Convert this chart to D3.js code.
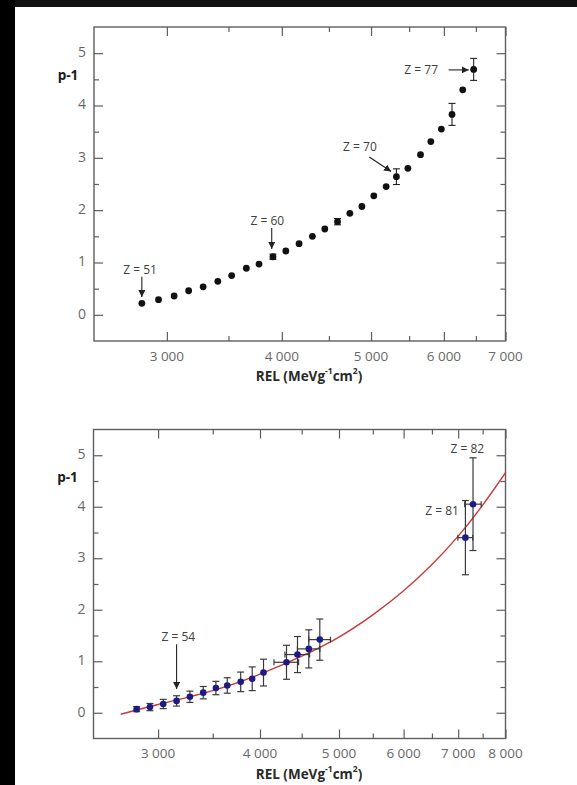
<!DOCTYPE html>
<html>
<head>
<meta charset="utf-8">
<script src="https://cdn.jsdelivr.net/npm/d3@7"></script>
<style>
  html, body { margin: 0; padding: 0; background: #ffffff; }
  svg { display: block; }
  text { font-family: "Open Sans", "Noto Sans", sans-serif; }
</style>
</head>
<body>
<div id="chart"></div>
<script>
// ---------- Top panel data ----------
const topREL = [2818, 2938, 3055, 3168, 3285, 3408, 3528, 3660, 3778, 3912, 4040, 4176, 4318, 4454, 4598, 4742, 4887, 5035, 5193, 5328, 5483, 5659, 5807, 5962, 6123, 6290, 6464];
const topP   = [0.22, 0.29, 0.36, 0.46, 0.535, 0.64, 0.75, 0.89, 0.97, 1.11, 1.22, 1.36, 1.50, 1.64, 1.78, 1.94, 2.07, 2.275, 2.45, 2.64, 2.80, 3.06, 3.31, 3.55, 3.83, 4.30, 4.69];
const topErr = [0, 0, 0, 0, 0, 0, 0, 0, 0, 0.05, 0, 0, 0, 0, 0.06, 0, 0, 0, 0, 0.15, 0, 0, 0, 0, 0.21, 0, 0.21];
const topMajorX = [3000, 4000, 5000, 6000, 7000];
const topMinorX = [3500, 4500, 5500, 6500];
const topAnnoText = ["Z = 51", "Z = 60", "Z = 70", "Z = 77"];
const topAnnoTextREL = [2806, 3857, 4863, 5669];
const topAnnoTextP = [0.85, 1.78, 3.20, 4.67];
const topArrowFromREL = [2818, 3900, 4979, 6071];
const topArrowFromP = [0.73, 1.66, 3.015, 4.68];
const topArrowToREL = [2818, 3900, 5257, 6384];
const topArrowToP = [0.34, 1.26, 2.74, 4.68];

// ---------- Bottom panel data ----------
const botREL  = [2824, 2932, 3044, 3161, 3282, 3408, 3532, 3647, 3788, 3913, 4040, 4311, 4447, 4591, 4736, 7144, 7299];
const botP    = [0.07, 0.11, 0.17, 0.23, 0.31, 0.39, 0.48, 0.53, 0.60, 0.66, 0.78, 0.98, 1.13, 1.24, 1.42, 3.40, 4.05];
const botYErr = [0.05, 0.07, 0.09, 0.10, 0.11, 0.12, 0.13, 0.15, 0.19, 0.23, 0.26, 0.33, 0.35, 0.37, 0.40, 0.72, 0.90];
const botXErr = [0, 0, 0, 0, 0, 0, 0, 0, 0, 0, 0, 150, 155, 145, 145, 150, 170];
const fitREL = [2700, 3000, 3500, 4000, 4500, 5000, 5500, 6000, 6500, 7000, 7500, 8000];
const fitP   = [-0.03, 0.16, 0.43, 0.75, 1.10, 1.47, 1.90, 2.37, 2.88, 3.43, 4.03, 4.66];
const botMajorX = [3000, 4000, 5000, 6000, 7000, 8000];
const botMinorX = [3500, 4500, 5500, 6500, 7500];
const botAnnoText = ["Z = 54", "Z = 81", "Z = 82"];
const botAnnoTextREL = [3176, 6688, 7184];
const botAnnoTextP = [1.45, 3.90, 5.10];
const botArrowFromREL = [3161];
const botArrowFromP = [1.33];
const botArrowToREL = [3161];
const botArrowToP = [0.46];

// ---------- shared ----------
const yMajor = [0, 1, 2, 3, 4, 5];
const yMinor = [0.5, 1.5, 2.5, 3.5, 4.5];
const yLabel = "p-1";
const xLabelMain = "REL (MeVg";
const W = 577, H = 785;

const fmt = d3.formatLocale({decimal: ".", thousands: " ", grouping: [3], currency: ["", ""]}).format(",d");

const svg = d3.select("#chart").append("svg").attr("width", W).attr("height", H);
svg.append("rect").attr("x", 0).attr("y", 0).attr("width", W).attr("height", H).attr("fill", "#ffffff");
svg.append("rect").attr("x", 0).attr("y", 0).attr("width", W).attr("height", 7).attr("fill", "#111111");
svg.append("rect").attr("x", 0).attr("y", 0).attr("width", 15).attr("height", H).attr("fill", "#000000");

const defs = svg.append("defs");
defs.append("marker").attr("id", "ah").attr("viewBox", "0 0 10 10").attr("refX", 10).attr("refY", 5)
  .attr("markerWidth", 7).attr("markerHeight", 7).attr("markerUnits", "userSpaceOnUse").attr("orient", "auto")
  .append("path").attr("d", "M0,0 L10,5 L0,10 Z").attr("fill", "#222");

const FRAME = "#5e5e5e";

function panel(cfg) {
  const x = d3.scaleLog().domain([2500, cfg.xmax]).range([cfg.x0, cfg.x1]);
  const y = d3.scaleLinear().domain([-0.5, 5.5]).range([cfg.y1, cfg.y0]);
  const g = svg.append("g");
  g.append("clipPath").attr("id", cfg.id + "clip").append("rect")
    .attr("x", cfg.x0).attr("y", cfg.y0).attr("width", cfg.x1 - cfg.x0).attr("height", cfg.y1 - cfg.y0);

  function tickAxis(axisFn, scale, vals, size, transform) {
    const a = g.append("g").attr("transform", transform)
      .call(axisFn(scale).tickValues(vals).tickSize(size).tickFormat(""));
    a.select(".domain").remove();
    a.selectAll("line").attr("stroke", FRAME).attr("stroke-width", 1.2);
  }
  tickAxis(d3.axisBottom, x, cfg.major, -9, `translate(0,${cfg.y1})`);
  tickAxis(d3.axisBottom, x, cfg.minor, -5, `translate(0,${cfg.y1})`);
  tickAxis(d3.axisTop, x, cfg.major, -9, `translate(0,${cfg.y0})`);
  tickAxis(d3.axisTop, x, cfg.minor, -5, `translate(0,${cfg.y0})`);
  tickAxis(d3.axisLeft, y, yMajor, -9, `translate(${cfg.x0},0)`);
  tickAxis(d3.axisLeft, y, yMinor, -5, `translate(${cfg.x0},0)`);
  tickAxis(d3.axisRight, y, yMajor, -9, `translate(${cfg.x1},0)`);
  tickAxis(d3.axisRight, y, yMinor, -5, `translate(${cfg.x1},0)`);

  g.append("rect").attr("x", cfg.x0).attr("y", cfg.y0).attr("width", cfg.x1 - cfg.x0).attr("height", cfg.y1 - cfg.y0)
    .attr("fill", "none").attr("stroke", FRAME).attr("stroke-width", 1.4);

  g.selectAll(".xl").data(cfg.major).enter().append("text")
    .attr("x", d => x(d)).attr("y", cfg.y1 + 16).attr("text-anchor", "middle").attr("dominant-baseline", "middle")
    .attr("font-size", 13.5).attr("fill", "#686868").text(d => fmt(d));
  g.selectAll(".yl").data(yMajor).enter().append("text")
    .attr("x", cfg.x0 - 8).attr("y", d => y(d)).attr("text-anchor", "end").attr("dominant-baseline", "middle")
    .attr("font-size", 14).attr("fill", "#686868").text(d => d);

  g.append("text").attr("x", cfg.x0 - 26).attr("y", y(4.55)).attr("text-anchor", "middle").attr("dominant-baseline", "middle")
    .attr("font-size", 13.5).attr("font-weight", "bold").attr("fill", "#1a1a1a").text(yLabel);
  const t = g.append("text").attr("x", 309).attr("y", cfg.y1 + 36).attr("text-anchor", "middle").attr("dominant-baseline", "middle")
    .attr("font-size", 13.5).attr("font-weight", "bold").attr("fill", "#2a2a2a");
  t.append("tspan").text(xLabelMain);
  t.append("tspan").attr("font-size", 8.5).attr("dy", -5).text("-1");
  t.append("tspan").attr("dy", 5).text("cm");
  t.append("tspan").attr("font-size", 8.5).attr("dy", -5).text("2");
  t.append("tspan").attr("dy", 5).text(")");

  return {x, y, g};
}

// ---------- top panel ----------
{
  const {x, y, g} = panel({id: "top", xmax: 7000, x0: 94, x1: 505.5, y0: 27, y1: 341, major: topMajorX, minor: topMinorX});
  const pts = topREL.map((r, i) => ({r, p: topP[i], e: topErr[i]}));
  const eb = g.selectAll(".eb").data(pts.filter(d => d.e > 0)).enter().append("g").attr("stroke", "#222").attr("stroke-width", 1.1);
  eb.append("line").attr("x1", d => x(d.r)).attr("x2", d => x(d.r)).attr("y1", d => y(d.p - d.e)).attr("y2", d => y(d.p + d.e));
  eb.append("line").attr("x1", d => x(d.r) - 3.5).attr("x2", d => x(d.r) + 3.5).attr("y1", d => y(d.p - d.e)).attr("y2", d => y(d.p - d.e));
  eb.append("line").attr("x1", d => x(d.r) - 3.5).attr("x2", d => x(d.r) + 3.5).attr("y1", d => y(d.p + d.e)).attr("y2", d => y(d.p + d.e));
  g.selectAll(".dot").data(pts).enter().append("circle")
    .attr("cx", d => x(d.r)).attr("cy", d => y(d.p)).attr("r", 3.4).attr("fill", "#111");

  topAnnoText.forEach((s, i) => {
    g.append("text").attr("x", x(topAnnoTextREL[i])).attr("y", y(topAnnoTextP[i]))
      .attr("text-anchor", "middle").attr("dominant-baseline", "middle")
      .attr("font-size", 12).attr("fill", "#404040").text(s);
    g.append("line").attr("x1", x(topArrowFromREL[i])).attr("y1", y(topArrowFromP[i]))
      .attr("x2", x(topArrowToREL[i])).attr("y2", y(topArrowToP[i]))
      .attr("stroke", "#222").attr("stroke-width", 1.1).attr("marker-end", "url(#ah)");
  });
}

// ---------- bottom panel ----------
{
  const {x, y, g} = panel({id: "bot", xmax: 8000, x0: 93.5, x1: 505.5, y0: 429.5, y1: 738.5, major: botMajorX, minor: botMinorX});
  const line = d3.line().x((d, i) => x(fitREL[i])).y(d => y(d)).curve(d3.curveNatural);
  g.append("path").datum(fitP).attr("d", line).attr("fill", "none").attr("stroke", "#c8393a")
    .attr("stroke-width", 1.4).attr("clip-path", "url(#botclip)");

  const pts = botREL.map((r, i) => ({r, p: botP[i], ey: botYErr[i], ex: botXErr[i]}));
  const eb = g.selectAll(".eb").data(pts).enter().append("g").attr("stroke", "#3a3a3a").attr("stroke-width", 1.2);
  eb.append("line").attr("x1", d => x(d.r)).attr("x2", d => x(d.r)).attr("y1", d => y(d.p - d.ey)).attr("y2", d => y(d.p + d.ey));
  eb.append("line").attr("x1", d => x(d.r) - 3.5).attr("x2", d => x(d.r) + 3.5).attr("y1", d => y(d.p - d.ey)).attr("y2", d => y(d.p - d.ey));
  eb.append("line").attr("x1", d => x(d.r) - 3.5).attr("x2", d => x(d.r) + 3.5).attr("y1", d => y(d.p + d.ey)).attr("y2", d => y(d.p + d.ey));
  const ebx = eb.filter(d => d.ex > 0);
  ebx.append("line").attr("x1", d => x(d.r - d.ex)).attr("x2", d => x(d.r + d.ex)).attr("y1", d => y(d.p)).attr("y2", d => y(d.p));
  ebx.append("line").attr("x1", d => x(d.r - d.ex)).attr("x2", d => x(d.r - d.ex)).attr("y1", d => y(d.p) - 3).attr("y2", d => y(d.p) + 3);
  ebx.append("line").attr("x1", d => x(d.r + d.ex)).attr("x2", d => x(d.r + d.ex)).attr("y1", d => y(d.p) - 3).attr("y2", d => y(d.p) + 3);

  g.selectAll(".dot").data(pts).enter().append("circle")
    .attr("cx", d => x(d.r)).attr("cy", d => y(d.p)).attr("r", 3.3).attr("fill", "#1d1a86");

  botAnnoText.forEach((s, i) => {
    g.append("text").attr("x", x(botAnnoTextREL[i])).attr("y", y(botAnnoTextP[i]))
      .attr("text-anchor", "middle").attr("dominant-baseline", "middle")
      .attr("font-size", 12).attr("fill", "#404040").text(s);
  });
  botArrowFromREL.forEach((r, i) => {
    g.append("line").attr("x1", x(r)).attr("y1", y(botArrowFromP[i]))
      .attr("x2", x(botArrowToREL[i])).attr("y2", y(botArrowToP[i]))
      .attr("stroke", "#222").attr("stroke-width", 1.1).attr("marker-end", "url(#ah)");
  });
}
</script>
</body>
</html>
